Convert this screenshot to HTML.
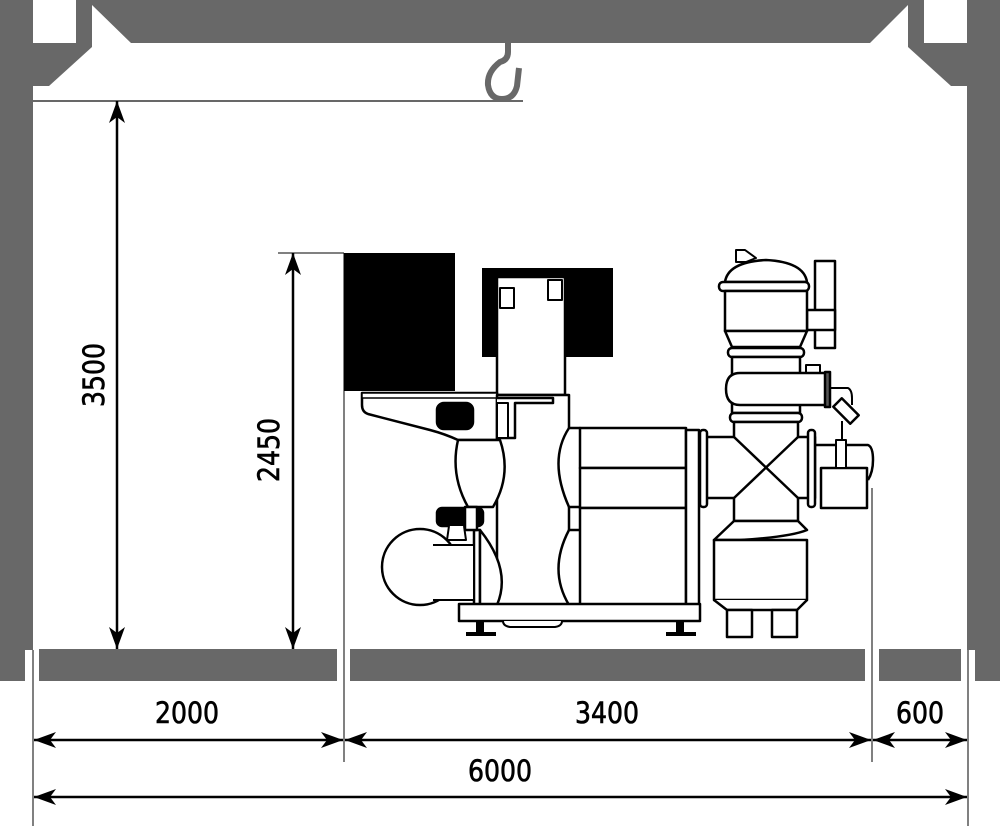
<!DOCTYPE html>
<html><head><meta charset="utf-8"><style>
html,body{margin:0;padding:0;background:#fff;width:1000px;height:826px;overflow:hidden}
svg{display:block}
text{font-family:"DejaVu Sans Condensed","DejaVu Sans","Liberation Sans",sans-serif;font-size:29px;fill:#000;stroke:#000;stroke-width:0.6}
</style></head><body>
<svg width="1000" height="826" viewBox="0 0 1000 826" xmlns="http://www.w3.org/2000/svg">
<defs>
<marker id="a" viewBox="0 0 22 16" refX="22" refY="8" markerWidth="22" markerHeight="16" markerUnits="userSpaceOnUse" orient="auto-start-reverse">
<path d="M0,0 L22,8 L0,16 L6,8 Z" fill="#000"/></marker>
</defs>
<g fill="#686868">
<rect x="0" y="0" width="33" height="650"/>
<rect x="0" y="650" width="25" height="31"/>
<rect x="967" y="0" width="33" height="650"/>
<rect x="975" y="650" width="25" height="31"/>
<polygon points="76,0 924,0 924,43 908,43 908,5 870,43 131,43 92,5 92,43 76,43"/>
<polygon points="33,43 92,43 92,47 49,86 33,86"/>
<polygon points="967,43 908,43 908,47 951,86 967,86"/>
<rect x="39" y="649" width="298" height="32"/>
<rect x="350" y="649" width="515" height="32"/>
<rect x="879" y="649" width="82" height="32"/>
</g>
<g fill="none" stroke="#686868" stroke-width="6">
<path d="M508,43 L508,52 Q508,60 500,62 Q487,72 488,85 Q490,99 502,99 Q514,99 517,86 L519,68"/>
</g>
<line x1="33" y1="101" x2="523" y2="101" stroke="#686868" stroke-width="2"/>
<g stroke="#000" stroke-width="1">
<line x1="33" y1="650" x2="33" y2="826"/>
<line x1="344" y1="253" x2="344" y2="762"/>
<line x1="872" y1="488" x2="872" y2="762"/>
<line x1="968" y1="650" x2="968" y2="826"/>
<line x1="278" y1="253" x2="344" y2="253"/>
</g>
<g stroke="#000" stroke-width="2.5" marker-start="url(#a)" marker-end="url(#a)">
<line x1="117" y1="101" x2="117" y2="649"/>
<line x1="293" y1="253" x2="293" y2="649"/>
<line x1="34" y1="740" x2="343" y2="740"/>
<line x1="345" y1="740" x2="871" y2="740"/>
<line x1="873" y1="740" x2="967" y2="740"/>
<line x1="34" y1="797" x2="967" y2="797"/>
</g>
<text x="155" y="723" textLength="64" lengthAdjust="spacingAndGlyphs">2000</text>
<text x="575" y="723" textLength="64" lengthAdjust="spacingAndGlyphs">3400</text>
<text x="896" y="723" textLength="48" lengthAdjust="spacingAndGlyphs">600</text>
<text x="468" y="781" textLength="64" lengthAdjust="spacingAndGlyphs">6000</text>
<text transform="translate(104,407) rotate(-90)" textLength="64" lengthAdjust="spacingAndGlyphs">3500</text>
<text transform="translate(279,482) rotate(-90)" textLength="64" lengthAdjust="spacingAndGlyphs">2450</text>

<g stroke="#000" stroke-width="2.5" fill="#fff" stroke-linejoin="round">
<rect x="344" y="253" width="111" height="138" fill="#000" stroke="none"/>
<rect x="482" y="268" width="131" height="89" fill="#000" stroke="none"/>
<rect x="497" y="277" width="68" height="118"/>
<rect x="500" y="288" width="14" height="20" stroke-width="2"/>
<rect x="548" y="280" width="14" height="20" stroke-width="2"/>
<path d="M362,393 L497,393 L497,440 L458,440 Q445,434 430,430 L368,414 Q362,412 362,405 Z"/>
<rect x="362" y="393" width="135" height="5" stroke-width="1.5"/>
<rect x="437" y="403" width="36" height="26" rx="7" fill="#000"/>
<path d="M497,395 L569,395 L569,608 L497,608 Z"/>
<path d="M497,398 L553,398 L553,403 L515,403 L515,438 L497,438"/>
<rect x="497" y="403" width="11" height="35" stroke-width="2"/>
<path d="M458,440 Q450,475 468,507 L493,507 Q512,475 500,440 Z"/>
<rect x="437" y="508" width="46" height="18" rx="5" fill="#000"/>
<path d="M449,526 L447,540 L466,540 L464,526" stroke-width="2"/>
<rect x="474" y="530" width="6" height="75"/>
<rect x="465" y="507" width="12" height="23"/>
<path d="M480,530 Q512,570 497,605 L480,605 Z"/>
<circle cx="420" cy="567" r="38"/>
<path d="M433,545 L474,545 L474,600 L433,600" stroke-width="2"/>
<path d="M569,428 Q548,460 569,507 L580,507 Q595,468 580,428 Z"/>
<path d="M569,530 Q548,570 569,605 L587,605 L587,530 Z"/>
<rect x="580" y="428" width="106" height="40"/>
<rect x="580" y="468" width="106" height="40"/>
<rect x="580" y="508" width="106" height="97"/>
<rect x="686" y="430" width="13" height="175"/>
<path d="M459,604 L700,604 L700,621 L459,621 Z"/>
<path d="M503,621 Q503,626 510,627 L555,627 Q562,626 562,621" stroke-width="2"/>
<path d="M476,621 h8 v11 h12 v4 h-30 v-4 h10 z" fill="#000" stroke="none"/>
<path d="M676,621 h8 v11 h12 v4 h-30 v-4 h10 z" fill="#000" stroke="none"/>
</g>
<g stroke="#000" stroke-width="2.5" fill="#fff" stroke-linejoin="round">
<path d="M736,250 L745,250 L756,258 L746,262 L736,262 Z" stroke-width="2"/>
<rect x="815" y="261" width="20" height="87"/>
<rect x="807" y="310" width="28" height="20"/>
<path d="M725,282 Q728,262 766,260 Q804,262 807,282 Z"/>
<rect x="719" y="282" width="90" height="9" rx="4"/>
<rect x="725" y="291" width="82" height="40"/>
<path d="M725,331 L732,347 L800,347 L807,331 Z"/>
<rect x="728" y="348" width="76" height="9" rx="4"/>
<rect x="732" y="357" width="68" height="56"/>
<rect x="806" y="365" width="14" height="9" stroke-width="2"/>
<path d="M740,373 L826,373 L826,405 L740,405 Q726,405 726,389 Q726,373 740,373 Z"/>
<rect x="825" y="372" width="5" height="35" fill="#555"/>
<path d="M830,388 L848,388 Q852,390 852,398 L852,405" fill="none" stroke-width="2"/>
<rect x="834" y="405" width="24" height="12" transform="rotate(45 846 411)"/>
<line x1="842" y1="421" x2="842" y2="440" stroke-width="2"/>
<rect x="730" y="413" width="72" height="9" rx="4"/>
<path d="M734,422 L798,422 L798,437 L815,437 L815,498 L798,498 L798,521 L734,521 L734,498 L705,498 L705,437 L734,437 Z"/>
<line x1="734" y1="437" x2="798" y2="498"/>
<line x1="798" y1="437" x2="734" y2="498"/>
<rect x="700" y="430" width="7" height="77" rx="3"/>
<rect x="808" y="430" width="7" height="77" rx="3"/>
<path d="M815,445 L868,445 Q873,447 873,460 Q873,472 868,480" fill="none"/>
<rect x="821" y="468" width="46" height="40"/>
<rect x="836" y="440" width="10" height="28" stroke-width="2"/>
<path d="M734,521 L798,521 L807,530 Q790,537 740,540 L714,540 Z"/>
<rect x="714" y="540" width="93" height="60"/>
<path d="M714,600 L727,610 L797,610 L807,600"/>
<rect x="727" y="610" width="25" height="27"/>
<rect x="772" y="610" width="25" height="27"/>
</g>
</svg>
</body></html>
